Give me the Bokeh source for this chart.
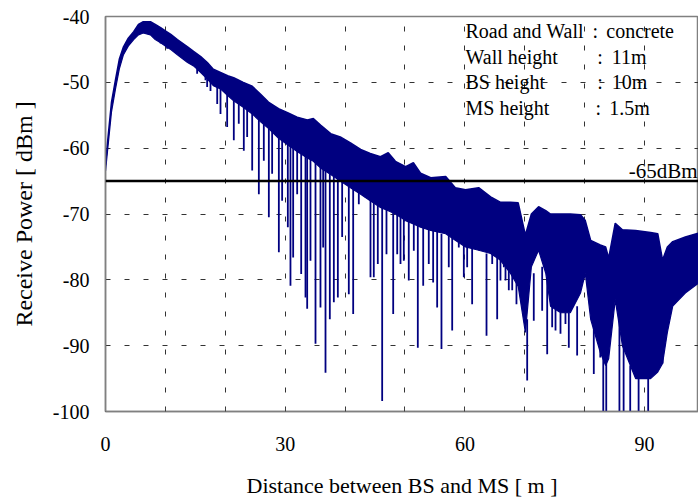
from bokeh.plotting import figure
from bokeh.models import Range1d, FixedTicker, Span, Label
from bokeh.embed import file_html
from bokeh.resources import INLINE

# ---- data ----
# envelope of the received power: distance [m], upper edge [dBm], lower edge of the solid band [dBm]
dist_env = [0.0, 0.33, 1.0, 1.67, 2.3, 3.0, 3.8, 4.7, 5.5, 6.3, 7.5, 8.3, 9.2, 10.0, 10.9, 12.0,
            13.7, 14.7, 15.9, 17.0, 18.0, 19.2, 20.4, 21.4, 23.0, 24.5, 25.9, 27.2, 28.9, 30.4,
            32.0, 33.7, 34.7, 35.9, 37.6, 39.2, 40.9, 42.6, 44.2, 45.9, 47.2, 48.4, 50.1, 51.4,
            52.6, 54.3, 56.8, 58.4, 60.1, 62.3, 64.3, 65.9, 67.6, 68.9, 70.1, 71.1, 72.3, 73.5,
            74.3, 76.0, 77.6, 79.3, 80.1, 81.0, 82.6, 83.5, 84.0, 85.1, 86.3, 88.5, 91.0, 92.2,
            93.0, 93.8, 94.7, 96.8, 99.0]
power_top = [-62.5, -59.2, -53.0, -49.6, -46.5, -44.6, -43.3, -42.3, -41.2, -40.8, -40.8, -41.2,
             -41.7, -42.2, -42.7, -43.5, -44.6, -45.3, -46.1, -47.0, -48.0, -48.5, -49.0, -49.3,
             -50.0, -50.6, -51.8, -53.0, -54.0, -54.6, -55.3, -55.7, -55.5, -56.5, -57.8, -58.3,
             -59.2, -60.2, -60.8, -61.3, -60.7, -62.0, -62.8, -62.2, -63.8, -64.5, -64.3, -66.0,
             -66.3, -66.0, -67.4, -68.2, -68.2, -68.3, -73.2, -70.0, -68.9, -69.5, -70.0, -70.0,
             -70.0, -70.1, -71.0, -74.0, -74.7, -75.0, -76.7, -71.4, -72.4, -72.5, -72.8, -73.0,
             -77.0, -75.0, -74.2, -73.5, -72.9]
power_body = [-63.5, -60.5, -54.5, -51.0, -48.0, -45.8, -44.5, -43.5, -42.8, -42.5, -42.8, -43.5,
              -44.0, -44.5, -45.0, -45.8, -47.0, -47.5, -48.5, -49.5, -50.5, -51.0, -52.0, -52.8,
              -53.8, -54.8, -56.0, -57.0, -58.5, -59.5, -60.5, -61.5, -62.0, -63.0, -64.0, -65.0,
              -66.0, -67.0, -68.0, -69.0, -69.5, -70.0, -71.0, -71.5, -72.0, -72.5, -73.0, -74.0,
              -75.0, -75.5, -76.0, -77.0, -79.0, -81.0, -88.0, -78.0, -75.5, -79.0, -84.0, -85.0,
              -85.0, -82.0, -79.0, -86.0, -91.0, -93.0, -92.0, -83.0, -90.0, -95.0, -95.0, -94.0,
              -92.7, -88.0, -84.0, -82.0, -80.5]

# fading nulls: distance [m], level where the null leaves the band [dBm], bottom of the null [dBm]
null_dist = [9.2, 10.3, 11.97, 13.64, 15.3, 16.69, 16.97, 17.53, 18.65, 19.2, 20.31, 21.42, 22.25,
             23.09, 23.65, 24.49, 25.6, 26.43, 27.27, 27.82, 28.94, 29.49, 30.44, 30.88, 31.33,
             32.0, 32.67, 33.39, 33.67, 34.22, 35.06, 35.89, 36.34, 36.73, 37.45, 38.12, 38.79,
             39.51, 40.62, 41.35, 42.29, 43.41, 44.24, 44.79, 45.46, 46.19, 46.91, 48.03, 48.7,
             49.25, 49.8, 50.63, 51.47, 52.14, 53.04, 53.97, 54.7, 55.37, 56.09, 57.31, 57.88,
             58.98, 59.82, 60.38, 61.21, 62.32, 63.05, 63.61, 64.56, 65.39, 65.94, 66.5, 66.78,
             67.33, 67.9, 68.61, 70.4, 71.5, 72.9, 73.74, 74.57, 75.13, 75.96, 76.79, 77.35,
             78.74, 81.52, 82.6, 83.1, 83.6, 85.8, 86.5, 87.6, 89.0, 90.6, 93.0]
null_from = [-43.5, -44.0, -45.0, -46.0, -47.5, -48.5, -49.0, -49.5, -50.5, -51.0, -51.5, -52.5,
             -53.0, -53.5, -54.0, -54.5, -55.5, -56.0, -56.5, -57.0, -58.0, -58.5, -59.0, -59.5,
             -60.0, -60.0, -60.5, -61.0, -61.0, -61.5, -62.0, -62.5, -63.0, -63.0, -63.5, -64.0,
             -64.5, -65.0, -65.5, -66.0, -66.5, -67.0, -67.5, -68.0, -68.0, -68.5, -69.0, -69.5,
             -70.0, -70.0, -70.5, -71.0, -71.0, -71.5, -71.5, -72.0, -72.5, -72.5, -73.0, -73.0,
             -73.5, -74.0, -74.5, -75.0, -75.0, -75.5, -75.5, -76.0, -76.0, -76.5, -77.0, -77.0,
             -78.0, -78.0, -79.0, -80.0, -86.0, -79.0, -78.0, -80.0, -83.0, -84.0, -85.0, -85.0,
             -85.0, -84.0, -85.0, -90.0, -91.0, -92.0, -85.0, -88.0, -93.0, -95.0, -95.0, -90.0]
null_bottom = [-44.1, -44.9, -45.4, -46.7, -48.7, -49.7, -50.7, -51.3, -53.3, -54.8, -56.8,
               -58.8, -56.3, -60.4, -58.3, -63.4, -67.0, -61.9, -70.5, -63.9, -75.8, -68.0,
               -72.0, -80.9, -76.6, -67.0, -79.1, -82.7, -84.4, -77.1, -89.7, -84.2, -75.1,
               -94.1, -86.0, -83.4, -82.7, -73.5, -82.2, -85.2, -68.5, -67.5, -79.6, -79.6,
               -77.6, -98.4, -76.1, -85.2, -76.1, -77.6, -77.1, -80.1, -75.6, -90.3, -80.9,
               -77.6, -80.4, -84.2, -90.5, -78.1, -87.7, -75.1, -79.6, -78.1, -83.7, -74.0,
               -75.6, -88.5, -77.6, -86.0, -80.1, -78.1, -80.1, -81.6, -81.6, -83.7, -95.3,
               -86.2, -84.7, -91.3, -87.2, -87.7, -88.2, -86.7, -90.3, -91.5, -94.3, -91.8,
               -100.0, -100.0, -100.0, -100.0, -100.0, -100.0, -100.0, -92.7]

threshold = -65
x_ticks = [0, 10, 20, 30, 40, 50, 60, 70, 80, 90]
x_tick_labels = {0: "0", 10: "", 20: "", 30: "30", 40: "", 50: "", 60: "60", 70: "", 80: "", 90: "90"}
y_ticks = [-100, -90, -80, -70, -60, -50, -40]
y_tick_labels = {-100: "-100", -90: "-90", -80: "-80", -70: "-70", -60: "-60", -50: "-50", -40: "-40"}

x_title = "Distance between BS and MS [ m ]"
y_title = "Receive Power [ dBm ]"
info_names = ["Road and Wall", "Wall height", "BS height", "MS height"]
info_values = ["concrete", "11m", "10m", "1.5m"]

FONT = "Liberation Serif"
NAVY = "#000080"

p = figure(width=698, height=500, output_backend="svg", toolbar_location=None,
           x_range=Range1d(0, 99), y_range=Range1d(-100, -40),
           min_border_left=105, min_border_right=0, min_border_top=16, min_border_bottom=89)
p.background_fill_color = "white"
p.border_fill_color = "white"
p.outline_line_color = "#808080"
p.outline_line_width = 1.5

# signal
p.varea(x=dist_env, y1=power_body, y2=power_top, fill_color=NAVY)
p.line(dist_env, power_top, line_color=NAVY, line_width=1.5)
p.line(dist_env, power_body, line_color=NAVY, line_width=1.2)
p.segment(x0=null_dist, y0=null_from, x1=null_dist, y1=null_bottom, line_color=NAVY, line_width=1.8)

# threshold line
p.add_layout(Span(location=threshold, dimension="width", line_color="black", line_width=2.5))
p.add_layout(Label(x=98.85, y=-63.4, text="-65dBm", text_align="right", text_baseline="middle",
                   text_font=FONT, text_font_size="21px", text_color="black"))

# info text block
ys = [-42.13, -46.08, -49.88, -53.83]
colon_x = [81.3, 82.1, 82.1, 81.8]
val_x = [83.6, 84.5, 84.5, 84.1]
for i in range(4):
    p.add_layout(Label(x=60.1, y=ys[i], text=info_names[i], text_baseline="middle",
                       text_font=FONT, text_font_size="20px", text_color="black"))
    p.add_layout(Label(x=colon_x[i], y=ys[i], text=":", text_baseline="middle",
                       text_font=FONT, text_font_size="20px", text_color="black"))
    p.add_layout(Label(x=val_x[i], y=ys[i], text=info_values[i], text_baseline="middle",
                       text_font=FONT, text_font_size="20px", text_color="black"))

# axes
xa = p.xaxis[0]
ya = p.yaxis[0]
xa.ticker = FixedTicker(ticks=x_ticks)
xa.major_label_overrides = x_tick_labels
ya.ticker = FixedTicker(ticks=y_ticks)
ya.major_label_overrides = y_tick_labels
for ax in (xa, ya):
    ax.axis_line_color = "#808080"
    ax.axis_line_width = 1.5
    ax.major_tick_in = 4
    ax.major_tick_out = 0
    ax.major_tick_line_color = "#404040"
    ax.minor_tick_line_color = None
    ax.major_label_text_font = FONT
    ax.major_label_text_font_size = "20px"
    ax.major_label_text_color = "black"
    ax.axis_label_text_font = FONT
    ax.axis_label_text_font_style = "normal"
    ax.axis_label_text_color = "black"
ya.major_tick_line_color = None
xa.axis_label = x_title
ya.axis_label = y_title
xa.axis_label_text_font_size = "22px"
ya.axis_label_text_font_size = "24px"
xa.major_label_standoff = 25
xa.axis_label_standoff = 19
ya.major_label_standoff = 16
ya.axis_label_standoff = 13

# grid
p.xgrid.ticker = FixedTicker(ticks=x_ticks)
p.ygrid.ticker = FixedTicker(ticks=y_ticks)
for g in (p.xgrid, p.ygrid):
    g.grid_line_color = "#333333"
    g.grid_line_width = 1
    g.grid_line_dash = "5 14"

open("out.html", "w").write(file_html(p, INLINE))
